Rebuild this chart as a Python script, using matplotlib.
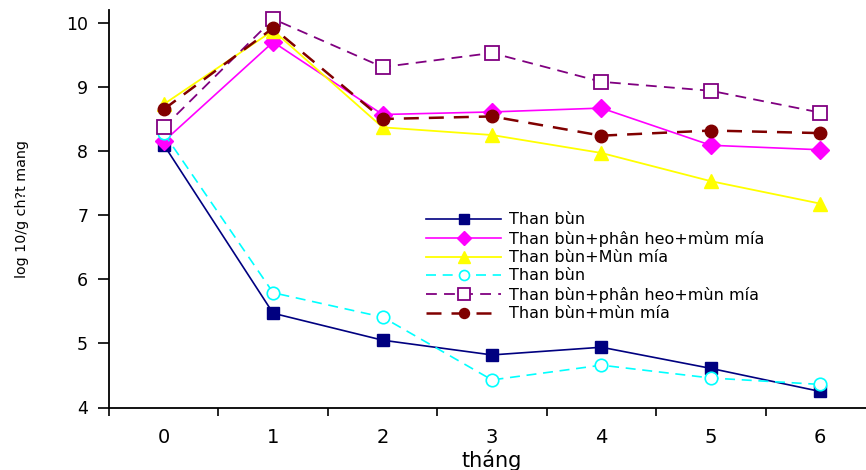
import matplotlib
matplotlib.use("Agg")
import matplotlib.pyplot as plt
from matplotlib.ticker import FixedLocator, NullFormatter

plt.rcParams['font.family'] = ['DejaVu Sans']

months = [0, 1, 2, 3, 4, 5, 6]
month_labels = ["0", "1", "2", "3", "4", "5", "6"]

# log10 counts per gram of carrier
than_bun_a = [8.10, 5.47, 5.05, 4.82, 4.94, 4.61, 4.25]
than_bun_phan_heo_a = [8.15, 9.70, 8.57, 8.61, 8.67, 8.09, 8.02]
than_bun_mun_mia_a = [8.73, 9.88, 8.37, 8.25, 7.97, 7.53, 7.18]
than_bun_b = [8.28, 5.79, 5.41, 4.43, 4.66, 4.46, 4.36]
than_bun_phan_heo_b = [8.37, 10.06, 9.31, 9.53, 9.08, 8.94, 8.60]
than_bun_mun_mia_b = [8.65, 9.92, 8.50, 8.54, 8.24, 8.32, 8.28]

series_labels = [
    "Than bùn",
    "Than bùn+phân heo+mùm mía",
    "Than bùn+Mùn mía",
    "Than bùn",
    "Than bùn+phân heo+mùn mía",
    "Than bùn+mùn mía",
]

W, H = 866, 470
fig = plt.figure(figsize=(W / 100, H / 100), dpi=100)
left, right, bottom, top = 109, 875, 407.5, 10
ax = fig.add_axes([left / W, (H - bottom) / H, (right - left) / W, (bottom - top) / H])

dash = (0, (6, 4))
ax.plot(months, than_bun_a, color="#000080", lw=1.2, marker="s", ms=9,
        mfc="#000080", mec="#000080", label=series_labels[0], zorder=3)
ax.plot(months, than_bun_phan_heo_a, color="#FF00FF", lw=1.2, marker="D", ms=9,
        mfc="#FF00FF", mec="#FF00FF", label=series_labels[1], zorder=3)
ax.plot(months, than_bun_mun_mia_a, color="#FFFF00", lw=1.3, marker="^", ms=10,
        mfc="#FFFF00", mec="#FFFF00", label=series_labels[2], zorder=3)
ax.plot(months, than_bun_b, color="#00FFFF", lw=1.2, ls=dash, marker="o", ms=9,
        mfc="white", mec="#00FFFF", mew=1.2, label=series_labels[3], zorder=3)
ax.plot(months, than_bun_phan_heo_b, color="#800080", lw=1.3, ls=dash, marker="s", ms=10,
        mfc="white", mec="#800080", mew=1.3, label=series_labels[4], zorder=4)
ax.plot(months, than_bun_mun_mia_b, color="#800000", lw=1.8, ls=dash, marker="o", ms=9,
        mfc="#800000", mec="#800000", label=series_labels[5], zorder=4)

ax.set_xlim(-0.5, 6.5)
ax.set_ylim(4, 10.2)

# category boundaries get the tick marks, category centres get the labels
ax.xaxis.set_major_locator(FixedLocator([i - 0.5 for i in range(8)]))
ax.xaxis.set_major_formatter(NullFormatter())
ax.xaxis.set_minor_locator(FixedLocator(months))
ax.set_xticklabels(month_labels, minor=True)
ax.tick_params(axis="x", which="major", direction="out", length=6, width=1.2)
ax.tick_params(axis="x", which="minor", length=0, pad=15, labelsize=14)

ax.set_yticks([4, 5, 6, 7, 8, 9, 10])
ax.tick_params(axis="y", direction="out", length=8, width=1.2, pad=7, labelsize=12.5)

for s in ("top", "right"):
    ax.spines[s].set_visible(False)
for s in ("left", "bottom"):
    ax.spines[s].set_linewidth(1.3)

ax.set_xlabel("tháng", fontsize=15, labelpad=1.5)
ax.set_ylabel("log 10/g ch?t mang", fontsize=10.3, labelpad=27)

legend_x = (420 - left) / (right - left)
legend_y = (bottom - 206) / (bottom - top)
ax.legend(loc="upper left", bbox_to_anchor=(legend_x, legend_y),
          frameon=False, fontsize=11.5, handlelength=4.7, handletextpad=0.45,
          labelspacing=0.21, borderaxespad=0, markerscale=0.8)

fig.savefig("out.png", dpi=100)
